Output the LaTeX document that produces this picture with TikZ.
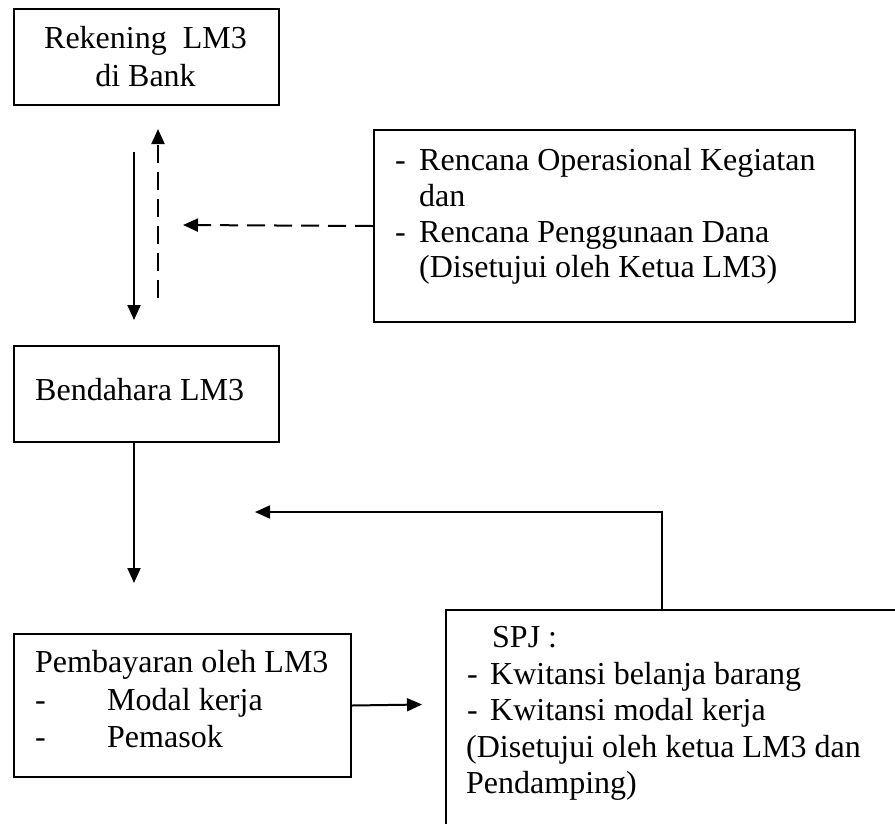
\documentclass[tikz,border=0pt]{standalone}
\usepackage{fontspec}
\setmainfont{Liberation Serif}
\usetikzlibrary{arrows.meta}
\begin{document}
\begin{tikzpicture}[x=1pt,y=-1pt,
  box/.style 2 args={draw, line width=2pt, anchor=north west, inner sep=0pt,
    minimum width=#1, minimum height=#2},
  txt/.style={anchor=base west, inner sep=0pt, font=\fontsize{32}{36.5}\selectfont},
  ctxt/.style={txt, anchor=base},
  arr/.style={line width=2pt, -{Triangle[length=15pt,width=13pt]}},
  dasharr/.style={arr, dash pattern=on 18pt off 9pt}]
\useasboundingbox (0,0) rectangle (895,823);
\clip (0,0) rectangle (895,823);

% boxes
\node[box={265pt}{96pt}] (bank) at (13,8) {};
\node[box={481pt}{192pt}] (plan) at (373,129) {};
\node[box={265pt}{96pt}] (bend) at (13,345) {};
\node[box={337pt}{143pt}] (bayar) at (13,633) {};
\node[box={480pt}{240pt}] (spj) at (445,609) {};

% texts
\node[ctxt] (t1) at (145.5,48) {Rekening~~LM3};
\node[ctxt] (t2) at (145.5,86) {di Bank};

\node[txt] (p1d) at (395,170) {-};
\node[txt] (p1) at (419,170) {Rencana Operasional Kegiatan};
\node[txt] (p2) at (419,206) {dan};
\node[txt] (p3d) at (395,242) {-};
\node[txt] (p3) at (419,242) {Rencana Penggunaan Dana};
\node[txt] (p4) at (419,277) {(Disetujui oleh Ketua LM3)};

\node[txt] (b1) at (35,400) {Bendahara LM3};

\node[txt] (y1) at (35,672) {Pembayaran oleh LM3};
\node[txt] (y2d) at (35,710) {-};
\node[txt] (y2) at (107,710) {Modal kerja};
\node[txt] (y3d) at (35,747) {-};
\node[txt] (y3) at (107,747) {Pemasok};

\node[txt] (s1) at (492,647) {SPJ :};
\node[txt] (s2d) at (467,684) {-};
\node[txt] (s2) at (490,684) {Kwitansi belanja barang};
\node[txt] (s3d) at (467,720) {-};
\node[txt] (s3) at (490,720) {Kwitansi modal kerja};
\node[txt] (s4) at (466,757) {(Disetujui oleh ketua LM3 dan};
\node[txt] (s5) at (466,793) {Pendamping)};

% free ends
\coordinate (a1s) at (134,152);
\coordinate (a1e) at (134,320);
\coordinate (a2s) at (158,298);
\coordinate (a2e) at (158,129);
\coordinate (a3e) at (183,225);
\coordinate (a4e) at (134,583);
\coordinate (a5e) at (255,512);
\coordinate (a6e) at (422,704.5);

% connectors
\draw[arr] (a1s) -- (a1e);
\draw[dasharr] (a2s) -- (a2e);
\draw[dasharr] (plan.west) -- (a3e);
\draw[arr] (bend.south -| a4e) -- (a4e);
\draw[arr] ([xshift=217pt]spj.north west) |- (a5e);
\draw[arr] (bayar.east) -- (a6e);
\end{tikzpicture}
\end{document}
